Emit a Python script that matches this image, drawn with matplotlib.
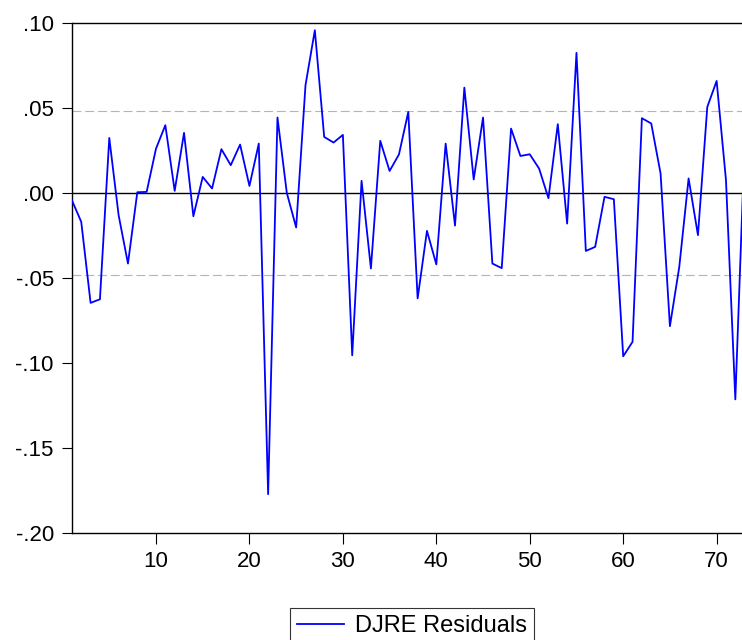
import matplotlib
matplotlib.use("Agg")
import matplotlib.pyplot as plt
from matplotlib.ticker import FuncFormatter

plt.rcParams['font.family'] = ['Liberation Sans', 'DejaVu Sans']

obs = list(range(1, 74))
residuals = [
    -0.0043, -0.0170, -0.0646, -0.0625, 0.0323, -0.0131, -0.0415, 0.0004, 0.0006, 0.0260,
    0.0398, 0.0012, 0.0353, -0.0137, 0.0094, 0.0026, 0.0257, 0.0163, 0.0284, 0.0041,
    0.0290, -0.1770, 0.0443, 0.0000, -0.0203, 0.0633, 0.0956, 0.0329, 0.0296, 0.0341,
    -0.0954, 0.0071, -0.0444, 0.0306, 0.0129, 0.0226, 0.0476, -0.0620, -0.0223, -0.0420,
    0.0290, -0.0192, 0.0619, 0.0079, 0.0443, -0.0415, -0.0442, 0.0378, 0.0217, 0.0227,
    0.0143, -0.0031, 0.0404, -0.0180, 0.0823, -0.0341, -0.0317, -0.0023, -0.0037, -0.0960,
    -0.0875, 0.0439, 0.0408, 0.0114, -0.0783, -0.0435, 0.0085, -0.0248, 0.0505, 0.0658,
    0.0075, -0.1213, 0.0300,
]
band = 0.048
yticks = [0.10, 0.05, 0.00, -0.05, -0.10, -0.15, -0.20]
xticks = [10, 20, 30, 40, 50, 60, 70]

fig = plt.figure(figsize=(7.42, 6.40), dpi=100)
ax = fig.add_axes([0.0969, 0.1667, 0.9067, 0.7978])

ax.axhline(0.0, color='black', lw=1.0, zorder=1)
for v in (band, -band):
    ax.axhline(v, color='#b4b4b4', lw=0.8, linestyle=(0, (8, 3.5)), zorder=1)

ax.plot(obs, residuals, color='#0000ff', lw=1.3, label='DJRE Residuals', zorder=3)

ax.set_xlim(1, 73)
ax.set_ylim(-0.20, 0.10)
ax.set_yticks(yticks)
ax.set_xticks(xticks)

def fmt(v, pos):
    s = f"{v:.2f}"
    if s.startswith("-0"):
        s = "-" + s[2:]
    elif s.startswith("0"):
        s = s[1:]
    return s

ax.yaxis.set_major_formatter(FuncFormatter(fmt))
ax.tick_params(axis='y', direction='out', length=7, width=0.8, pad=6, labelsize=16, colors='black')
ax.tick_params(axis='x', direction='out', length=8, width=0.8, pad=5, labelsize=16, colors='black')
for side in ('left', 'top', 'bottom'):
    ax.spines[side].set_linewidth(1.0)
    ax.spines[side].set_color('black')
ax.spines['right'].set_visible(False)

leg = fig.legend(loc='upper center', bbox_to_anchor=(0.555, 0.05), fontsize=17,
                 frameon=True, fancybox=False, edgecolor='black', handlelength=2.0,
                 borderpad=0.3, handletextpad=0.45, borderaxespad=0)
leg.get_frame().set_linewidth(0.8)

fig.savefig('out.png', dpi=100)
